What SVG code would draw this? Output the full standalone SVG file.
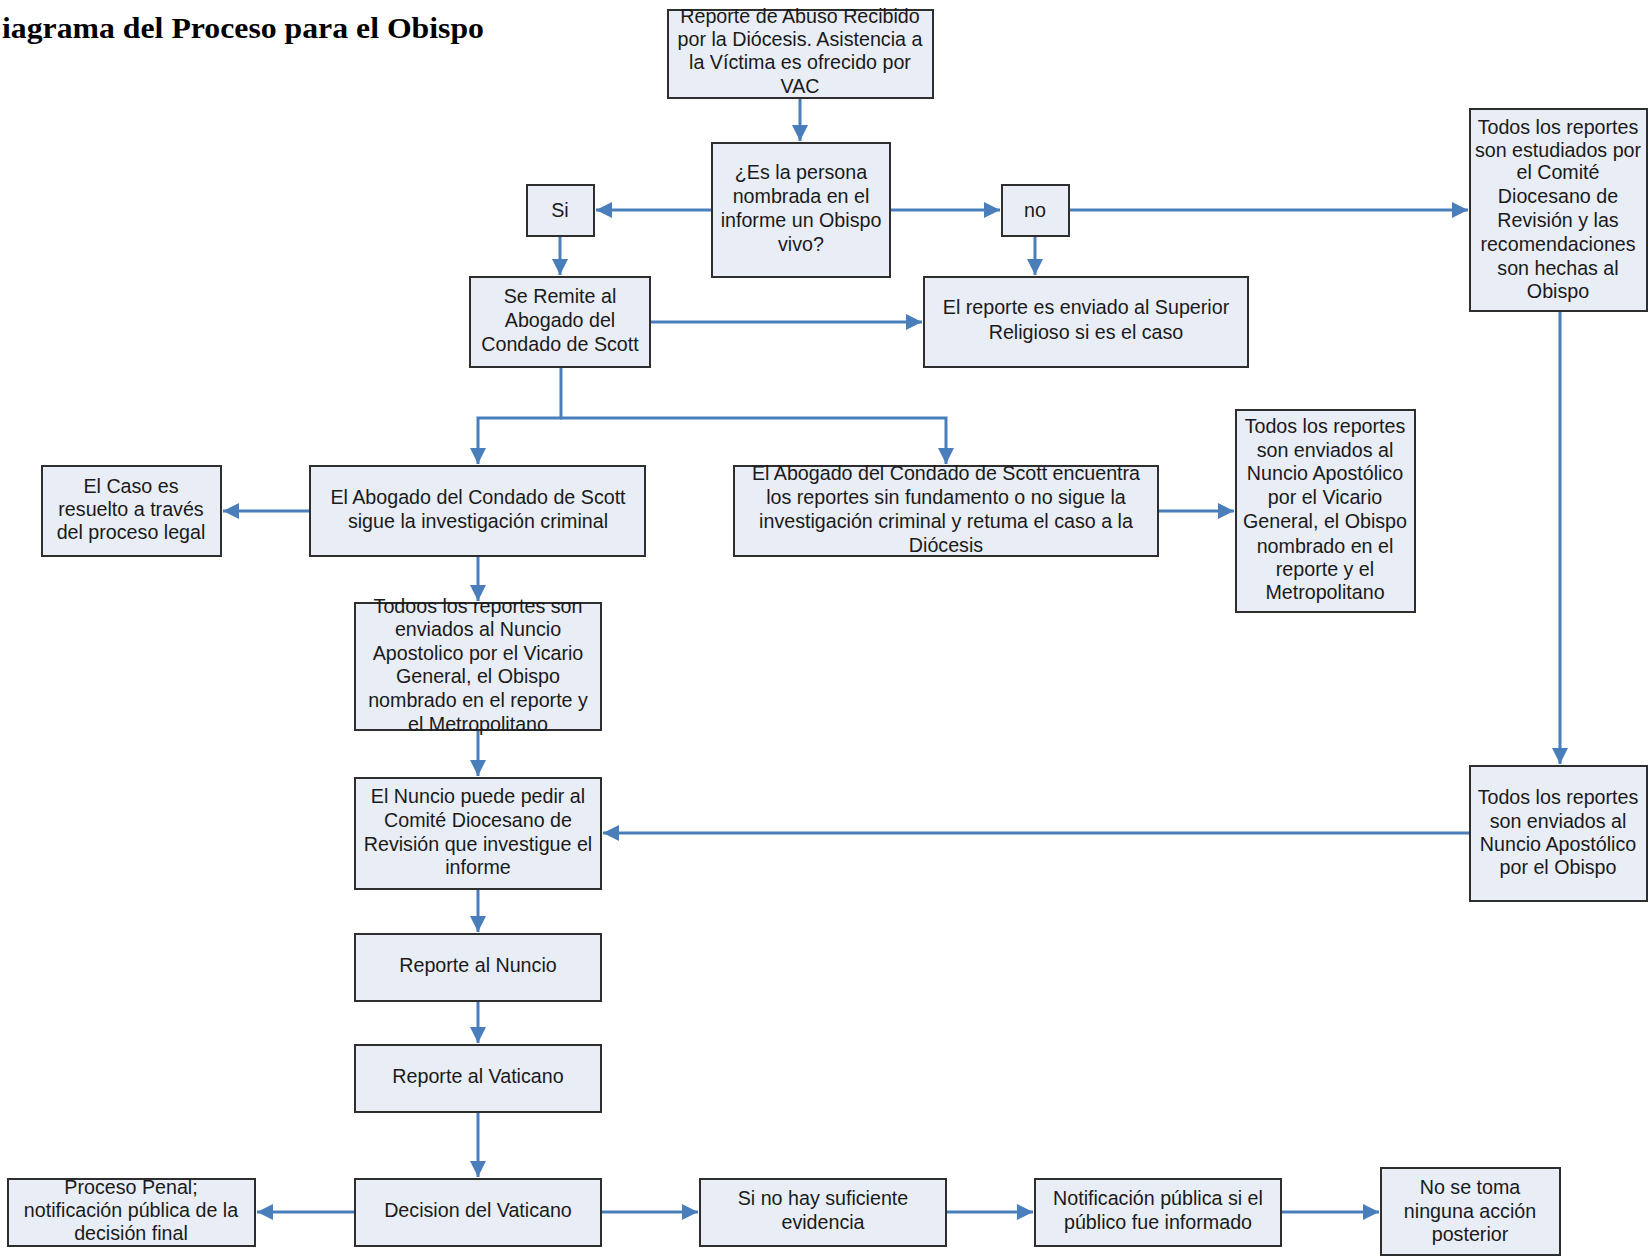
<svg xmlns="http://www.w3.org/2000/svg" width="1648" height="1256" viewBox="0 0 1648 1256">
<style>
.bg{fill:#ffffff}
.box{fill:#e8edf6;stroke:#2e2e2e;stroke-width:2}
.t{font-family:"Liberation Sans",Arial,sans-serif;font-size:20.5px;fill:#1a1a1a;text-anchor:middle}
.title{font-family:"Liberation Serif","Times New Roman",serif;font-size:30px;font-weight:bold;fill:#000}
.c{fill:none;stroke:#4a7ebb;stroke-width:3}
</style>
<defs>
<marker id="ah" markerUnits="userSpaceOnUse" markerWidth="18" markerHeight="16" refX="16" refY="8" orient="auto">
<path d="M0,0 L16,8 L0,16 z" fill="#4a7ebb"/>
</marker>
</defs>
<rect class="bg" x="0" y="0" width="1648" height="1256"/>
<text class="title" x="2" y="38" textLength="482" lengthAdjust="spacingAndGlyphs">iagrama del Proceso para el Obispo</text>

<g id="connectors">
<path class="c" d="M800,98 V141" marker-end="url(#ah)"/>
<path class="c" d="M712,210 H596" marker-end="url(#ah)"/>
<path class="c" d="M890,210 H1000" marker-end="url(#ah)"/>
<path class="c" d="M1069,210 H1468" marker-end="url(#ah)"/>
<path class="c" d="M1035,236 V275" marker-end="url(#ah)"/>
<path class="c" d="M560,236 V275" marker-end="url(#ah)"/>
<path class="c" d="M650,322 H922" marker-end="url(#ah)"/>
<path class="c" d="M561,367 V418"/>
<path class="c" d="M562,418 H478 V464" marker-end="url(#ah)"/>
<path class="c" d="M560,418 H946 V464" marker-end="url(#ah)"/>
<path class="c" d="M310,511 H223" marker-end="url(#ah)"/>
<path class="c" d="M478,556 V601" marker-end="url(#ah)"/>
<path class="c" d="M478,730 V776" marker-end="url(#ah)"/>
<path class="c" d="M1158,511 H1234" marker-end="url(#ah)"/>
<path class="c" d="M1560,311 V764" marker-end="url(#ah)"/>
<path class="c" d="M1470,833 H603" marker-end="url(#ah)"/>
<path class="c" d="M478,889 V932" marker-end="url(#ah)"/>
<path class="c" d="M478,1001 V1043" marker-end="url(#ah)"/>
<path class="c" d="M478,1112 V1177" marker-end="url(#ah)"/>
<path class="c" d="M355,1212 H257" marker-end="url(#ah)"/>
<path class="c" d="M601,1212 H698" marker-end="url(#ah)"/>
<path class="c" d="M946,1212 H1033" marker-end="url(#ah)"/>
<path class="c" d="M1281,1212 H1379" marker-end="url(#ah)"/>
</g>

<g id="n-reporte-abuso">
<rect class="box" x="668" y="10" width="265" height="88"/>
<text class="t" transform="matrix(0.96 0 0 1 32 0)"><tspan x="800" y="23">Reporte de Abuso Recibido</tspan><tspan x="800" y="46">por la Diócesis. Asistencia a</tspan><tspan x="800" y="69">la Víctima es ofrecido por</tspan><tspan x="800" y="93">VAC</tspan></text>
</g>

<g id="n-pregunta">
<rect class="box" x="712" y="143" width="178" height="134"/>
<text class="t" transform="matrix(0.96 0 0 1 32.04 0)"><tspan x="801" y="179">¿Es la persona</tspan><tspan x="801" y="203">nombrada en el</tspan><tspan x="801" y="227">informe un Obispo</tspan><tspan x="801" y="251">vivo?</tspan></text>
</g>

<g id="n-si">
<rect class="box" x="527" y="185" width="67" height="51"/>
<text class="t" transform="matrix(0.96 0 0 1 22.4 0)"><tspan x="560" y="217">Si</tspan></text>
</g>

<g id="n-no">
<rect class="box" x="1002" y="185" width="67" height="51"/>
<text class="t" transform="matrix(0.96 0 0 1 41.4 0)"><tspan x="1035" y="217">no</tspan></text>
</g>

<g id="n-se-remite">
<rect class="box" x="470" y="277" width="180" height="90"/>
<text class="t" transform="matrix(0.96 0 0 1 22.4 0)"><tspan x="560" y="303">Se Remite al</tspan><tspan x="560" y="327">Abogado del</tspan><tspan x="560" y="351">Condado de Scott</tspan></text>
</g>

<g id="n-superior">
<rect class="box" x="924" y="277" width="324" height="90"/>
<text class="t" transform="matrix(0.96 0 0 1 43.44 0)"><tspan x="1086" y="314">El reporte es enviado al Superior</tspan><tspan x="1086" y="339">Religioso si es el caso</tspan></text>
</g>

<g id="n-estudiados">
<rect class="box" x="1470" y="109" width="177" height="202"/>
<text class="t" transform="matrix(0.96 0 0 1 62.32 0)"><tspan x="1558" y="134">Todos los reportes</tspan><tspan x="1558" y="157">son estudiados por</tspan><tspan x="1558" y="179">el Comité</tspan><tspan x="1558" y="203">Diocesano de</tspan><tspan x="1558" y="227">Revisión y las</tspan><tspan x="1558" y="251">recomendaciones</tspan><tspan x="1558" y="275">son hechas al</tspan><tspan x="1558" y="298">Obispo</tspan></text>
</g>

<g id="n-caso-resuelto">
<rect class="box" x="42" y="466" width="179" height="90"/>
<text class="t" transform="matrix(0.96 0 0 1 5.24 0)"><tspan x="131" y="493">El Caso es</tspan><tspan x="131" y="516">resuelto a través</tspan><tspan x="131" y="539">del proceso legal</tspan></text>
</g>

<g id="n-sigue-investigacion">
<rect class="box" x="310" y="466" width="335" height="90"/>
<text class="t" transform="matrix(0.96 0 0 1 19.12 0)"><tspan x="478" y="504">El Abogado del Condado de Scott</tspan><tspan x="478" y="528">sigue la investigación criminal</tspan></text>
</g>

<g id="n-sin-fundamento">
<rect class="box" x="734" y="466" width="424" height="90"/>
<text class="t" transform="matrix(0.96 0 0 1 37.84 0)"><tspan x="946" y="480">El Abogado del Condado de Scott encuentra</tspan><tspan x="946" y="504">los reportes sin fundamento o no sigue la</tspan><tspan x="946" y="528">investigación criminal y retuma el caso a la</tspan><tspan x="946" y="552">Diócesis</tspan></text>
</g>

<g id="n-enviados-vicario-der">
<rect class="box" x="1236" y="410" width="179" height="202"/>
<text class="t" transform="matrix(0.96 0 0 1 53 0)"><tspan x="1325" y="433">Todos los reportes</tspan><tspan x="1325" y="457">son enviados al</tspan><tspan x="1325" y="480">Nuncio Apostólico</tspan><tspan x="1325" y="504">por el Vicario</tspan><tspan x="1325" y="528">General, el Obispo</tspan><tspan x="1325" y="553">nombrado en el</tspan><tspan x="1325" y="576">reporte y el</tspan><tspan x="1325" y="599">Metropolitano</tspan></text>
</g>

<g id="n-enviados-vicario-izq">
<rect class="box" x="355" y="603" width="246" height="127"/>
<text class="t" transform="matrix(0.96 0 0 1 19.12 0)"><tspan x="478" y="613">Todoos los reportes son</tspan><tspan x="478" y="636">enviados al Nuncio</tspan><tspan x="478" y="660">Apostolico por el Vicario</tspan><tspan x="478" y="683">General, el Obispo</tspan><tspan x="478" y="707">nombrado en el reporte y</tspan><tspan x="478" y="731">el Metropolitano</tspan></text>
</g>

<g id="n-nuncio-pedir">
<rect class="box" x="355" y="778" width="246" height="111"/>
<text class="t" transform="matrix(0.96 0 0 1 19.12 0)"><tspan x="478" y="803">El Nuncio puede pedir al</tspan><tspan x="478" y="827">Comité Diocesano de</tspan><tspan x="478" y="851">Revisión que investigue el</tspan><tspan x="478" y="874">informe</tspan></text>
</g>

<g id="n-enviados-obispo">
<rect class="box" x="1470" y="766" width="177" height="135"/>
<text class="t" transform="matrix(0.96 0 0 1 62.32 0)"><tspan x="1558" y="804">Todos los reportes</tspan><tspan x="1558" y="828">son enviados al</tspan><tspan x="1558" y="851">Nuncio Apostólico</tspan><tspan x="1558" y="874">por el Obispo</tspan></text>
</g>

<g id="n-reporte-nuncio">
<rect class="box" x="355" y="934" width="246" height="67"/>
<text class="t" transform="matrix(0.96 0 0 1 19.12 0)"><tspan x="478" y="972">Reporte al Nuncio</tspan></text>
</g>

<g id="n-reporte-vaticano">
<rect class="box" x="355" y="1045" width="246" height="67"/>
<text class="t" transform="matrix(0.96 0 0 1 19.12 0)"><tspan x="478" y="1083">Reporte al Vaticano</tspan></text>
</g>

<g id="n-decision">
<rect class="box" x="355" y="1179" width="246" height="67"/>
<text class="t" transform="matrix(0.96 0 0 1 19.12 0)"><tspan x="478" y="1217">Decision del Vaticano</tspan></text>
</g>

<g id="n-proceso-penal">
<rect class="box" x="8" y="1179" width="247" height="67"/>
<text class="t" transform="matrix(0.96 0 0 1 5.24 0)"><tspan x="131" y="1194">Proceso Penal;</tspan><tspan x="131" y="1217">notificación pública de la</tspan><tspan x="131" y="1240">decisión final</tspan></text>
</g>

<g id="n-sin-evidencia">
<rect class="box" x="700" y="1179" width="246" height="67"/>
<text class="t" transform="matrix(0.96 0 0 1 32.92 0)"><tspan x="823" y="1205">Si no hay suficiente</tspan><tspan x="823" y="1229">evidencia</tspan></text>
</g>

<g id="n-notificacion">
<rect class="box" x="1035" y="1179" width="246" height="67"/>
<text class="t" transform="matrix(0.96 0 0 1 46.32 0)"><tspan x="1158" y="1205">Notificación pública si el</tspan><tspan x="1158" y="1229">público fue informado</tspan></text>
</g>

<g id="n-ninguna-accion">
<rect class="box" x="1381" y="1168" width="179" height="87"/>
<text class="t" transform="matrix(0.96 0 0 1 58.8 0)"><tspan x="1470" y="1194">No se toma</tspan><tspan x="1470" y="1218">ninguna acción</tspan><tspan x="1470" y="1241">posterior</tspan></text>
</g>
</svg>
